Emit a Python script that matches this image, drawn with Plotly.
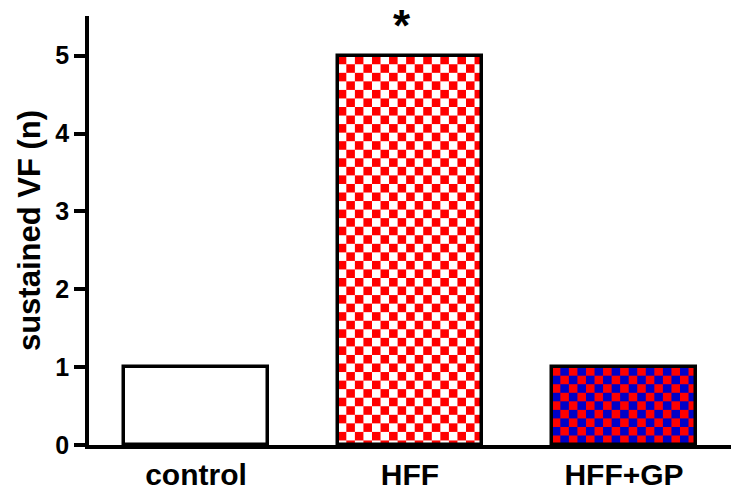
import base64
import plotly.graph_objects as go

categories = ["control", "HFF", "HFF+GP"]
values = [1, 5, 1]
fill_a = ["#FFFFFF", "#FF0000", "#FF0000"]
fill_b = ["#FFFFFF", "#FFFFFF", "#0000C8"]
y_ticks = [0, 1, 2, 3, 4, 5]

BAR_W = 0.675
Y_MAX = 5.51
PLOT_L, PLOT_T, PLOT_B = 89, 16, 51
W, H = 731, 496
plot_w = W - PLOT_L
plot_h = H - PLOT_T - PLOT_B
px_per_x = plot_w / 3.0
px_per_y = plot_h / Y_MAX
CELL = 8.55


def checker_svg(w_px, h_px, c1, c2):
    svg = (
        f'<svg xmlns="http://www.w3.org/2000/svg" width="{w_px:.1f}" height="{h_px:.1f}" '
        f'viewBox="0 0 {w_px:.1f} {h_px:.1f}" preserveAspectRatio="none">'
        f'<defs><pattern id="p" width="{2*CELL}" height="{2*CELL}" patternUnits="userSpaceOnUse">'
        f'<rect width="{2*CELL}" height="{2*CELL}" fill="{c2}"/>'
        f'<rect width="{CELL}" height="{CELL}" fill="{c1}"/>'
        f'<rect x="{CELL}" y="{CELL}" width="{CELL}" height="{CELL}" fill="{c1}"/>'
        f'</pattern></defs><rect width="100%" height="100%" fill="url(#p)"/></svg>'
    )
    return "data:image/svg+xml;base64," + base64.b64encode(svg.encode()).decode()


fig = go.Figure()
fig.add_trace(go.Bar(
    x=categories, y=values, width=BAR_W,
    marker=dict(color=["#FFFFFF" if a == b else "rgba(0,0,0,0)" for a, b in zip(fill_a, fill_b)],
                line=dict(color="black", width=3.5)),
    hoverinfo="skip",
))

images = []
for i, (v, a, b) in enumerate(zip(values, fill_a, fill_b)):
    if a == b:
        continue
    images.append(dict(
        source=checker_svg(BAR_W * px_per_x, v * px_per_y, a, b),
        xref="x", yref="y", x=i - BAR_W / 2, y=v, sizex=BAR_W, sizey=v,
        xanchor="left", yanchor="top", sizing="stretch", layer="below",
    ))

fig.add_annotation(x=1, y=5, text="<b>*</b>", showarrow=False, xshift=-8, yshift=30,
                   font=dict(family="Liberation Sans", size=44, color="black"))

fig.update_layout(
    width=W, height=H,
    margin=dict(l=PLOT_L, r=0, t=PLOT_T, b=PLOT_B),
    paper_bgcolor="white", plot_bgcolor="white",
    showlegend=False,
    images=images,
    bargap=0,
    font=dict(family="Liberation Sans", color="black"),
    xaxis=dict(
        type="category", range=[-0.5, 2.5], showline=True, linewidth=3.5, linecolor="black",
        ticks="", showgrid=False, zeroline=False, automargin=False,
        tickfont=dict(size=30, family="Liberation Sans", weight="bold"),
    ),
    yaxis=dict(
        range=[0, Y_MAX], tickvals=y_ticks, showline=True, linewidth=3.5, linecolor="black",
        ticks="outside", ticklen=11, tickwidth=3.5, tickcolor="black",
        showgrid=False, zeroline=False, automargin=False,
        tickfont=dict(size=25, family="Liberation Sans", weight="bold"),
        title=dict(text="<b>sustained VF (n)</b>", font=dict(size=31, family="Liberation Sans"), standoff=6),
    ),
)

fig.write_html("out.html")
